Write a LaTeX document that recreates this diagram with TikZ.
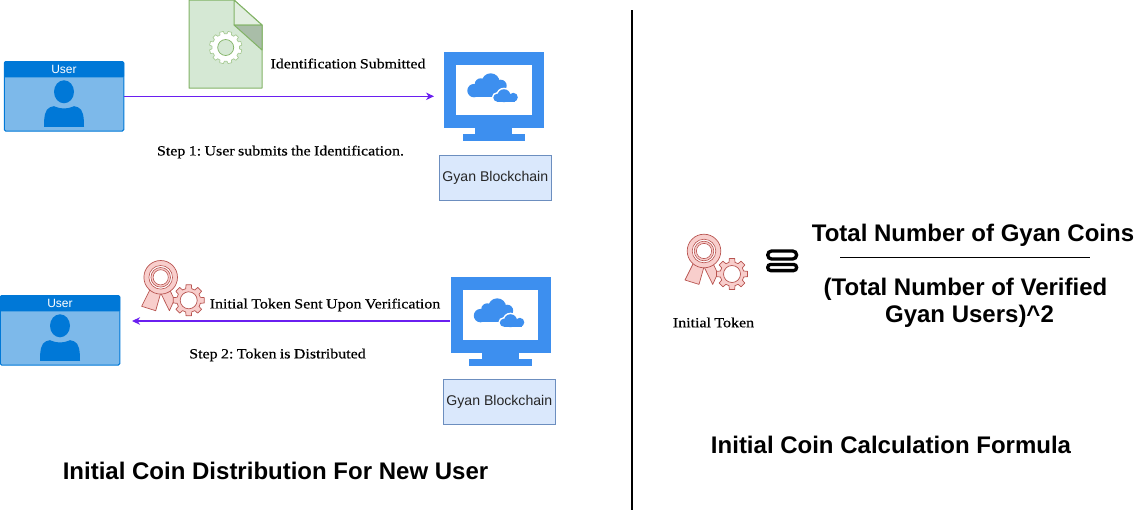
\documentclass[tikz,border=0pt]{standalone}
\usepackage{fontspec}
\usetikzlibrary{arrows.meta}
\setmainfont{Liberation Sans}
\newfontfamily\capfont[FakeStretch=1.14,FakeBold=0.5,WordSpace=0.85]{Liberation Serif}
\frenchspacing
\definecolor{cardblue}{HTML}{7DB9EA}
\definecolor{msblue}{HTML}{0078D7}
\definecolor{monblue}{HTML}{3D8FEF}
\definecolor{arrowpurple}{HTML}{6A1FF0}
\definecolor{gfill}{HTML}{D5E8D4}
\definecolor{gfold}{HTML}{E2EEE0}
\definecolor{gdark}{HTML}{A9BDA8}
\definecolor{gline}{HTML}{82B366}
\definecolor{rfill}{HTML}{F8CECC}
\definecolor{rline}{HTML}{B85450}
\definecolor{bfill}{HTML}{DAE8FC}
\definecolor{bline}{HTML}{6C8EBF}
\newcommand{\gearoutline}[3]{%
  (0:#1) \foreach \k in {1,...,#3}{
    -- ({(\k-1)*360/#3+360/#3*0.18}:#1)
    -- ({(\k-1)*360/#3+360/#3*0.28}:#2)
    -- ({(\k-1)*360/#3+360/#3*0.72}:#2)
    -- ({(\k-1)*360/#3+360/#3*0.82}:#1)
  } -- cycle}
\tikzset{
  x=1pt,y=-1pt,
  capt/.style={font=\capfont\fontsize{14}{16}\selectfont,text=black,inner sep=0pt},
  card/.style={draw=msblue,fill=cardblue,line width=1pt,rounded corners=1.5pt,minimum width=119.5pt,minimum height=69.5pt,inner sep=0pt},
  cardhead/.style={fill=msblue,text=white,font=\fontsize{12}{14}\selectfont,minimum width=120pt,minimum height=16pt,inner sep=0pt,rounded corners=1pt},
  monitor/.style={fill=monblue,minimum width=100pt,minimum height=75.4pt,inner sep=0pt},
  chainbox/.style={draw=bline,fill=bfill,line width=0.8pt,minimum width=112pt,minimum height=45.4pt,inner sep=0pt,font=\fontsize{14.1}{16}\selectfont,text=black!85},
  heading/.style={font=\bfseries\fontsize{24}{28}\selectfont,inner sep=0pt},
  formula/.style={font=\bfseries\fontsize{24}{28}\selectfont,inner sep=0pt},
  flow/.style={draw=arrowpurple,line width=1.1pt,-{Stealth[length=8pt,width=7.5pt,inset=2.5pt]}},
  pill/.style={draw=black,line width=3.3pt},
  userart/.pic={
    \fill[msblue] (0,-4.5) ellipse (10 and 11.5);
    \fill[msblue] (-20,30.5) .. controls (-20,20) and (-19,13) .. (-14,11)
      .. controls (-11,9.5) and (-9,9.5) .. (-7,11)
      .. controls (-3,12.5) and (3,12.5) .. (7,11)
      .. controls (9,9.5) and (11,9.5) .. (14,11)
      .. controls (19,13) and (20,20) .. (20,30.5) -- cycle;
  },
  monart/.pic={
    \fill[monblue] (-19,36) rectangle (18.3,44);
    \fill[monblue] (-31.3,43.5) rectangle (31.3,50);
    \fill[white] (-38,-25.5) rectangle (37.7,24.8);
    % large cloud
    \foreach \cx/\cy/\cr in {-20/0.1/6.7,-13.3/-6.2/6,-3.3/-8.2/9,6.7/-4.8/6}{
      \fill[monblue] (\cx,\cy) circle (\cr);
    }
    \fill[monblue] (-20,-5) rectangle (11,6.8);
    % small cloud, with a white halo
    \foreach \cx/\cy/\cr in {3.3/7.2/4,10/5.2/6.5,19.3/6.8/4.5}{
      \filldraw[white,line width=3pt] (\cx,\cy) circle (\cr);
    }
    \filldraw[white,line width=3pt] (3.3,7) rectangle (21,11.2);
    \foreach \cx/\cy/\cr in {3.3/7.2/4,10/5.2/6.5,19.3/6.8/4.5}{
      \fill[monblue] (\cx,\cy) circle (\cr);
    }
    \fill[monblue] (3.3,7) rectangle (21,11.2);
  },
  awardart/.pic={
    \filldraw[fill=rfill,draw=rline,line width=0.7pt,line join=round]
      (-10.7,12.4) -- (-19,29) -- (-5,33.4) -- (0,15.7) -- (8.7,33.4) -- (13.7,22.4) -- (9,12.4) -- cycle;
    \filldraw[fill=rfill,draw=rline,line width=0.7pt] (0,0) circle (16.8);
    \filldraw[fill=white,draw=rline,line width=0.6pt] (0,0) circle (11.8);
    \filldraw[fill=rfill,draw=rline,line width=0.6pt] (0,0) circle (9.8);
    \filldraw[fill=white,draw=rline,line width=0.6pt] (0,0) circle (7.6);
    \begin{scope}[shift={(28,23)},rotate=-22.5]
      \filldraw[fill=rfill,draw=rline,line width=0.7pt,line join=round] \gearoutline{12}{15.7}{8};
      \filldraw[fill=white,draw=rline,line width=0.7pt] (0,0) circle (8.5);
    \end{scope}
  }
}
\begin{document}
\begin{tikzpicture}
\useasboundingbox (0,0) rectangle (1134,512);
% divider
\coordinate (divtop) at (631.5,10);
\coordinate (divbot) at (631.5,510);
\draw[line width=2pt,black] (divtop) -- (divbot);
% user 1
\node[card] (user1) at (64,96.3) {};
\node[cardhead] (user1h) at (64,69.3) {User};
\pic at (64,96.3) {userart};
% user 2
\node[card] (user2) at (60,330.3) {};
\node[cardhead] (user2h) at (60,303.3) {User};
\pic at (60,330.3) {userart};
% document
\filldraw[fill=gfill,draw=gline,line width=1pt,line join=round] (189,0) -- (234,0) -- (262,25) -- (262,88) -- (189,88) -- cycle;
\filldraw[fill=gfold,draw=gline,line width=1pt,line join=round] (234,0) -- (262,25) -- (234,25) -- cycle;
\filldraw[fill=gdark,draw=gline,line width=1pt,line join=round] (234,25) -- (262,25) -- (262,50) -- cycle;
\begin{scope}[shift={(225.7,47.5)}]
  \filldraw[fill=white,draw=gline!70!white,line width=0.7pt,line join=round] \gearoutline{13.8}{16.3}{12};
  \filldraw[fill=gfill,draw=gline,line width=0.7pt] (0,0) circle (8);
\end{scope}
% monitors
\node[monitor] (mon1) at (494,90) {};
\pic at (494,90.5) {monart};
\node[monitor] (mon2) at (500.5,315) {};
\pic at (500.5,315.5) {monart};
% boxes
\node[chainbox] (box1) at (495.3,178) {Gyan Blockchain};
\node[chainbox] (box2) at (499.3,402) {Gyan Blockchain};
% awards
\pic at (160.7,277.3) {awardart};
\pic at (704,251) {awardart};
% connectors
\coordinate (a1end) at (434,96.3);
\draw[flow] (user1.east) -- (a1end);
\coordinate (a2start) at (450,321);
\coordinate (a2end) at (132,321);
\draw[flow] (a2start) -- (a2end);
% captions
\node[capt] (t1) at (348,63.5) {Identification Submitted};
\node[capt] (t2) at (280.5,152) {Step 1: User submits the Identification.};
\node[capt] (t3) at (325,305) {Initial Token Sent Upon Verification};
\node[capt] (t4) at (277.5,355) {Step 2: Token is Distributed};
\node[capt] (t5) at (713.5,322.5) {Initial Token};
% equals sign
\draw[pill,rounded corners=3.9pt] (767.7,251) rectangle (796.6,259);
\draw[pill,rounded corners=3pt] (767.7,264.4) rectangle (796.6,270.6);
% formula
\node[formula] (f1) at (973,235) {Total Number of Gyan Coins};
\coordinate (fl) at (840,257.5);
\coordinate (fr) at (1090,257.5);
\draw[line width=1.6pt,black] (fl) -- (fr);
\node[formula] (f2) at (965.5,289.5) {(Total Number of Verified};
\node[formula] (f3) at (969.5,316.5) {Gyan Users)\^{}2};
% headings
\node[heading] (h1) at (275.5,471.3) {Initial Coin Distribution For New User};
\node[heading] (h2) at (891,445.3) {Initial Coin Calculation Formula};
\end{tikzpicture}
\end{document}
